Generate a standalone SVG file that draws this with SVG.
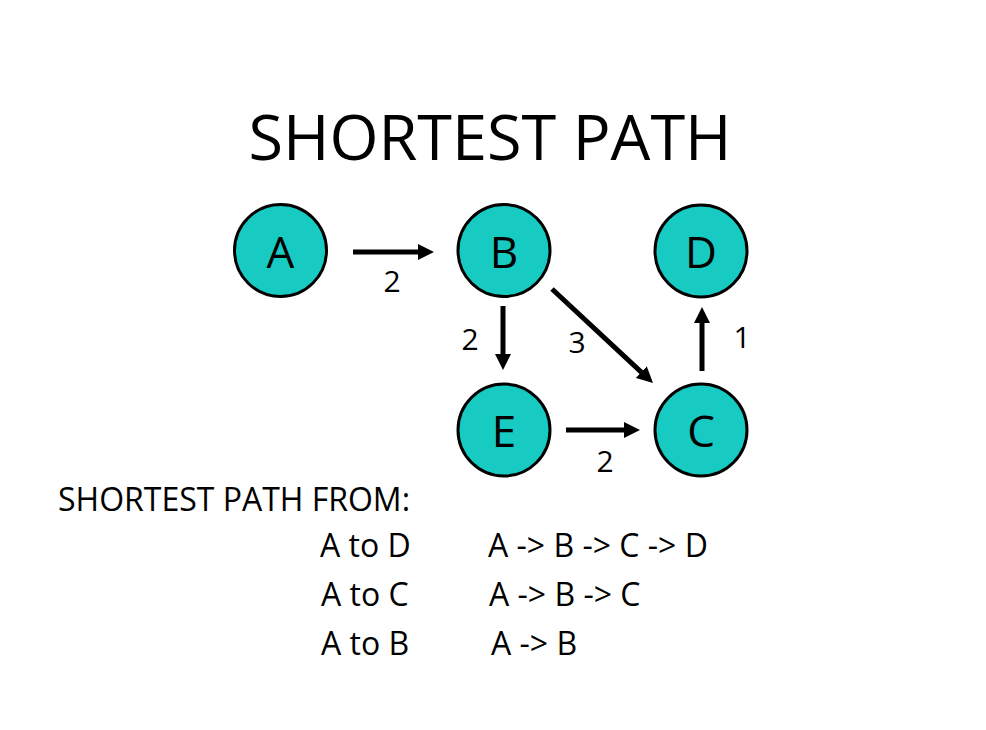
<svg xmlns="http://www.w3.org/2000/svg" width="986" height="730" viewBox="0 0 986 730">
<style>
.node circle{fill:#17cbc2;stroke:#000;stroke-width:3}
.node text{font-family:"Open Sans","Noto Sans",sans-serif;font-size:44px;text-anchor:middle;fill:#000}
.edge{stroke:#000;stroke-width:5;fill:none}
.lbl{font-family:"Open Sans","Noto Sans",sans-serif;font-size:30px;text-anchor:middle;fill:#000}
.txt{font-family:"Open Sans","Noto Sans",sans-serif;fill:#000}
</style>
<defs>
<marker id="ah" viewBox="0 0 16 16" refX="4" refY="8" markerWidth="16" markerHeight="16" markerUnits="userSpaceOnUse" orient="auto">
<path d="M0,0 L16,8 L0,16 z" fill="#000"/>
</marker>
</defs>
<rect width="986" height="730" fill="#fff"/>
<text class="txt" x="490" y="160" font-size="63" text-anchor="middle">SHORTEST PATH</text>
<g id="connectors">
<line class="edge" x1="353" y1="252" x2="422" y2="252" marker-end="url(#ah)"/>
<line class="edge" x1="503" y1="306" x2="503" y2="358" marker-end="url(#ah)"/>
<line class="edge" x1="552" y1="289" x2="644.2" y2="374.8" marker-end="url(#ah)"/>
<line class="edge" x1="566" y1="430" x2="628" y2="430" marker-end="url(#ah)"/>
<line class="edge" x1="702" y1="371" x2="702" y2="319" marker-end="url(#ah)"/>
<text class="lbl" x="392" y="292">2</text>
<text class="lbl" x="470" y="350">2</text>
<text class="lbl" x="577" y="353">3</text>
<text class="lbl" x="742" y="348">1</text>
<text class="lbl" x="605" y="472">2</text>
</g>
<g id="node-A" class="node"><circle cx="280.5" cy="250.5" r="46"/><text x="280.5" y="268">A</text></g>
<g id="node-B" class="node"><circle cx="504" cy="250.5" r="46"/><text x="504" y="268">B</text></g>
<g id="node-D" class="node"><circle cx="701" cy="251" r="46"/><text x="701" y="268">D</text></g>
<g id="node-E" class="node"><circle cx="504" cy="430" r="46"/><text x="504" y="447">E</text></g>
<g id="node-C" class="node"><circle cx="701" cy="430" r="46"/><text x="701" y="447">C</text></g>
<g id="summary" class="txt">
<text x="58" y="511" font-size="32">SHORTEST PATH FROM:</text>
<text x="320" y="557" font-size="32">A to D</text>
<text x="488" y="557" font-size="32">A -&gt; B -&gt; C -&gt; D</text>
<text x="321" y="606" font-size="32">A to C</text>
<text x="489" y="606" font-size="32">A -&gt; B -&gt; C</text>
<text x="321" y="655" font-size="32">A to B</text>
<text x="491" y="655" font-size="32">A -&gt; B</text>
</g>
</svg>
